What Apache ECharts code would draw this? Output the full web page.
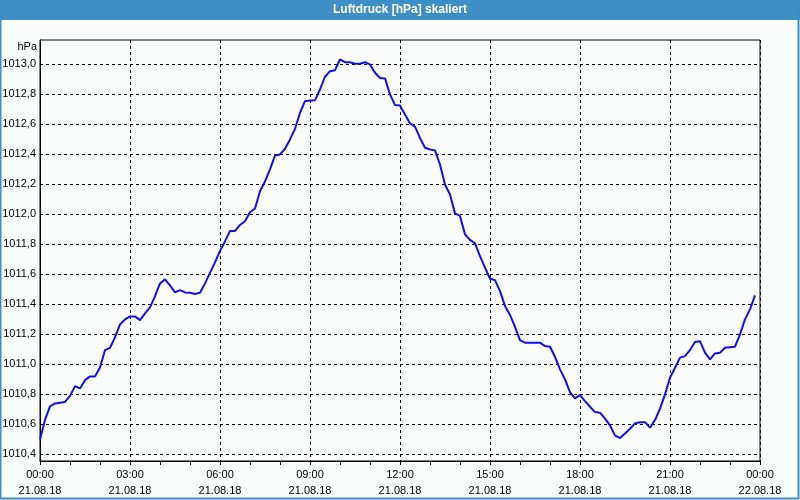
<!DOCTYPE html>
<html>
<head>
<meta charset="utf-8">
<script src="https://cdn.jsdelivr.net/npm/echarts@6/dist/echarts.min.js"></script>
<style>
html,body{margin:0;padding:0;background:#fbfdfc;}
#c{width:800px;height:500px;}
</style>
</head>
<body>
<div id="c"></div>
<script>
// Sampling: one reading every 10 minutes starting at 00:00 on 21.08.18
var startMinute = 0;
var stepMinutes = 10;

// Air pressure readings (hPa)
var pressure = [
  1010.50, 1010.63, 1010.72, 1010.74, 1010.745, 1010.75, 1010.79, 1010.855, 1010.84, 1010.895,
  1010.92, 1010.92, 1010.98, 1011.095, 1011.11, 1011.18, 1011.267, 1011.30, 1011.32, 1011.32,
  1011.295, 1011.34, 1011.38, 1011.455, 1011.54, 1011.567, 1011.527, 1011.48, 1011.495, 1011.48,
  1011.478, 1011.47, 1011.478, 1011.54, 1011.61, 1011.68, 1011.757, 1011.82, 1011.89, 1011.89,
  1011.93, 1011.955, 1012.015, 1012.04, 1012.155, 1012.22, 1012.30, 1012.393, 1012.40, 1012.438,
  1012.50, 1012.57, 1012.678, 1012.755, 1012.76, 1012.762, 1012.833, 1012.918, 1012.955, 1012.962,
  1013.033, 1013.015, 1013.015, 1013.005, 1013.005, 1013.015, 1013.00, 1012.945, 1012.91, 1012.907,
  1012.80, 1012.73, 1012.727, 1012.667, 1012.607, 1012.585, 1012.51, 1012.445, 1012.433, 1012.427,
  1012.333, 1012.20, 1012.133, 1012.007, 1011.99, 1011.867, 1011.83, 1011.807, 1011.722, 1011.645,
  1011.571, 1011.562, 1011.489, 1011.39, 1011.33, 1011.25, 1011.162, 1011.145, 1011.145, 1011.145,
  1011.145, 1011.122, 1011.118, 1011.051, 1010.967, 1010.90, 1010.815, 1010.773, 1010.795, 1010.755,
  1010.718, 1010.682, 1010.678, 1010.638, 1010.593, 1010.527, 1010.509, 1010.54, 1010.571, 1010.607,
  1010.615, 1010.615, 1010.578, 1010.629, 1010.705, 1010.80, 1010.911, 1010.978, 1011.045, 1011.055,
  1011.095, 1011.149, 1011.155, 1011.078, 1011.033, 1011.073, 1011.078, 1011.111, 1011.115, 1011.118,
  1011.20, 1011.30, 1011.367, 1011.46
];

// X tick labels every 3 hours (180 minutes)
var xTickLabels = [
  '00:00\n21.08.18', '03:00\n21.08.18', '06:00\n21.08.18', '09:00\n21.08.18',
  '12:00\n21.08.18', '15:00\n21.08.18', '18:00\n21.08.18', '21:00\n21.08.18',
  '00:00\n22.08.18'
];

// Y tick values
var yTicks = [1010.4, 1010.6, 1010.8, 1011.0, 1011.2, 1011.4, 1011.6, 1011.8, 1012.0,
  1012.2, 1012.4, 1012.6, 1012.8, 1013.0];

var yMin = 1010.356;
var yMax = 1013.163;

var seriesData = pressure.map(function (v, i) { return [startMinute + i * stepMinutes, v]; });

var chart = echarts.init(document.getElementById('c'), null, {renderer: 'canvas'});
var FONT = 'Liberation Sans';
chart.setOption({
  animation: false,
  backgroundColor: '#fbfdfc',
  graphic: [
    {type: 'rect', shape: {x: 0, y: 0, width: 800, height: 20}, style: {fill: '#3d8fc6'}, z: 0},
    {type: 'rect', shape: {x: 0.5, y: 0.5, width: 798, height: 498}, style: {fill: null, stroke: '#3d8fc6', lineWidth: 2}, z: 0},
    {type: 'text', x: 400, y: 10, style: {text: 'Luftdruck [hPa] skaliert', fill: '#ffffff', font: 'bold 12px ' + FONT, align: 'center', verticalAlign: 'middle'}, z: 1},
    {type: 'text', x: 37, y: 46.5, style: {text: 'hPa', fill: '#000', font: '11px ' + FONT, align: 'right', verticalAlign: 'middle'}, z: 1}
  ],
  grid: {left: 40, right: 40, top: 40, bottom: 39, show: true, borderColor: '#000', borderWidth: 1, backgroundColor: 'transparent', outerBoundsMode: 'none'},
  xAxis: {
    type: 'value', min: 0, max: 1440, interval: 180,
    axisLine: {show: true, onZero: false, lineStyle: {color: '#000', width: 1}},
    axisTick: {show: true, length: 4, inside: false, lineStyle: {color: '#000'}},
    minorTick: {show: true, splitNumber: 3, length: 4, lineStyle: {color: '#000'}},
    splitLine: {show: true, lineStyle: {color: '#000', type: [3, 3], width: 1}},
    minorSplitLine: {show: false},
    axisLabel: {
      color: '#000', fontFamily: FONT, fontSize: 11, lineHeight: 16, margin: 6,
      showMinLabel: true, showMaxLabel: true, hideOverlap: false,
      formatter: function (v) { return xTickLabels[Math.round(v / 180)] || ''; }
    }
  },
  yAxis: {
    type: 'value', min: yMin, max: yMax,
    axisLine: {show: true, lineStyle: {color: '#000', width: 1}},
    axisTick: {show: false, customValues: yTicks},
    splitLine: {show: true, lineStyle: {color: '#000', type: [3, 3], width: 1}},
    axisLabel: {
      color: '#000', fontFamily: FONT, fontSize: 11, margin: 4,
      customValues: yTicks, hideOverlap: false,
      formatter: function (v) { return v.toFixed(1).replace('.', ','); }
    }
  },
  series: [{
    type: 'line', data: seriesData, showSymbol: false, symbol: 'none',
    lineStyle: {color: '#1010e6', width: 2}, smooth: false, clip: true
  }]
});
</script>
</body>
</html>
